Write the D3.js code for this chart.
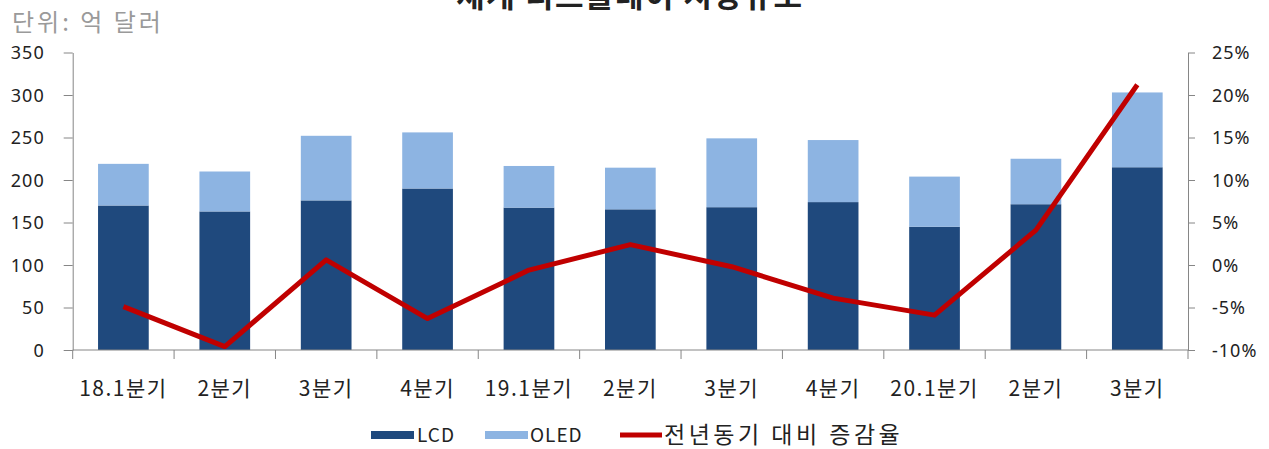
<!DOCTYPE html>
<html>
<head>
<meta charset="utf-8">
<script src="https://cdn.jsdelivr.net/npm/d3@7"></script>
<style>
  html, body { margin: 0; padding: 0; background: #fff; }
  svg { display: block; }
  text { font-family: "Noto Sans CJK KR", "Noto Sans", sans-serif; }
</style>
</head>
<body>
<svg id="chart" width="1269" height="449"></svg>
<script>
// Quarterly display market size (100M USD) and year-over-year change (%)
const quarters = ["18.1분기", "2분기", "3분기", "4분기", "19.1분기", "2분기", "3분기", "4분기", "20.1분기", "2분기", "3분기"];
const lcd  = [170, 163, 176, 190, 167.5, 165.5, 168, 174, 145, 171.5, 215];
const oled = [49, 47, 76, 66, 49, 49, 81, 73, 59, 53.5, 88];
const yoy  = [-4.9, -9.6, 0.6, -6.3, -0.6, 2.4, -0.2, -3.9, -5.9, 4.1, 21.2];
const leftTicks  = [0, 50, 100, 150, 200, 250, 300, 350];
const rightTicks = [-10, -5, 0, 5, 10, 15, 20, 25];
const seriesNames = ["LCD", "OLED", "전년동기 대비 증감율"];

const colors = { lcd: "#1f497d", oled: "#8db4e2", line: "#c00000", axis: "#868686" };

const svg = d3.select("#chart");
const m = { left: 72.7, right: 1188, top: 52.5, bottom: 350 };

const x = d3.scaleBand().domain(d3.range(quarters.length)).range([m.left, m.right]).paddingInner(0.5).paddingOuter(0.25);
const yL = d3.scaleLinear().domain([0, 350]).range([m.bottom, m.top]);
const yR = d3.scaleLinear().domain([-10, 25]).range([m.bottom, m.top]);

// Title (its upper part runs past the top edge)
svg.append("text").attr("x", 630).attr("y", 7).attr("text-anchor", "middle")
  .attr("font-size", 31).attr("font-weight", "bold").attr("letter-spacing", 1.5).attr("fill", "#222")
  .text("세계 디스플레이 시장규모");

// Unit label
svg.append("text").attr("x", 12).attr("y", 31).attr("font-size", 24)
  .attr("letter-spacing", 3).attr("fill", "#9a9a9a")
  .text("단위: 억 달러");

// Stacked bars
const stackData = quarters.map((q, i) => ({ i, lcd: lcd[i], oled: oled[i] }));
const stack = d3.stack().keys(["lcd", "oled"])(stackData);
svg.append("g").selectAll("g").data(stack).join("g")
  .attr("fill", d => colors[d.key])
  .selectAll("rect").data(d => d).join("rect")
  .attr("x", d => x(d.data.i))
  .attr("width", x.bandwidth())
  .attr("y", d => yL(d[1]))
  .attr("height", d => yL(d[0]) - yL(d[1]));

// Left axis
const axL = svg.append("g").attr("transform", `translate(${m.left},0)`)
  .call(d3.axisLeft(yL).tickValues(leftTicks).tickSize(9).tickPadding(19).tickSizeOuter(0));
axL.select(".domain").attr("stroke", colors.axis);
axL.selectAll(".tick line").attr("stroke", colors.axis);
axL.selectAll("text").attr("font-size", 18).attr("letter-spacing", 1).attr("fill", "#222").attr("dy", "0.35em")
  .style("font-family", "'Noto Sans', sans-serif");

// Right axis
const axR = svg.append("g").attr("transform", `translate(${m.right},0)`)
  .call(d3.axisRight(yR).tickValues(rightTicks).tickSize(7).tickPadding(17).tickSizeOuter(0)
    .tickFormat(d => d + "%"));
axR.select(".domain").attr("stroke", colors.axis);
axR.selectAll(".tick line").attr("stroke", colors.axis);
axR.selectAll("text").attr("font-size", 18).attr("letter-spacing", 1).attr("fill", "#222").attr("dy", "0.35em")
  .style("font-family", "'Noto Sans', sans-serif");

// Bottom axis: ticks between categories, labels centred under each bar
const xb = d3.scaleLinear().domain([0, quarters.length]).range([m.left, m.right]);
const axB = svg.append("g").attr("transform", `translate(0,${m.bottom})`);
axB.append("line").attr("x1", m.left).attr("x2", m.right).attr("stroke", colors.axis);
axB.selectAll("line.t").data(d3.range(quarters.length + 1)).join("line").attr("class", "t")
  .attr("x1", d => xb(d)).attr("x2", d => xb(d)).attr("y1", 0).attr("y2", 9)
  .attr("stroke", colors.axis);
axB.selectAll("text").data(quarters).join("text")
  .attr("x", (d, i) => x(i) + x.bandwidth() / 2).attr("y", 46)
  .attr("text-anchor", "middle").attr("font-size", 21).attr("letter-spacing", 1.5).attr("fill", "#222")
  .text(d => d);

// Year-over-year line
const line = d3.line().x((d, i) => x(i) + x.bandwidth() / 2).y(d => yR(d));
svg.append("path").datum(yoy).attr("d", line)
  .attr("fill", "none").attr("stroke", colors.line).attr("stroke-width", 5)
  .attr("stroke-linejoin", "round");

// Legend
const lg = svg.append("g").attr("transform", "translate(0,435)");
const items = [
  { type: "rect", color: colors.lcd, x: 371, tx: 417, size: 19, ls: 1 },
  { type: "rect", color: colors.oled, x: 485, tx: 530, size: 19, ls: 1 },
  { type: "line", color: colors.line, x: 620, tx: 664, size: 23, ls: 3.5 }
];
items.forEach((it, i) => {
  if (it.type === "rect") {
    lg.append("rect").attr("x", it.x).attr("y", -4).attr("width", 43).attr("height", 8).attr("fill", it.color);
  } else {
    lg.append("line").attr("x1", it.x).attr("x2", it.x + 42).attr("y1", 0).attr("y2", 0)
      .attr("stroke", it.color).attr("stroke-width", 5);
  }
  lg.append("text").attr("x", it.tx).attr("y", 0).attr("dy", "0.35em")
    .attr("font-size", it.size).attr("letter-spacing", it.ls).attr("fill", "#222").text(seriesNames[i]);
});
</script>
</body>
</html>
